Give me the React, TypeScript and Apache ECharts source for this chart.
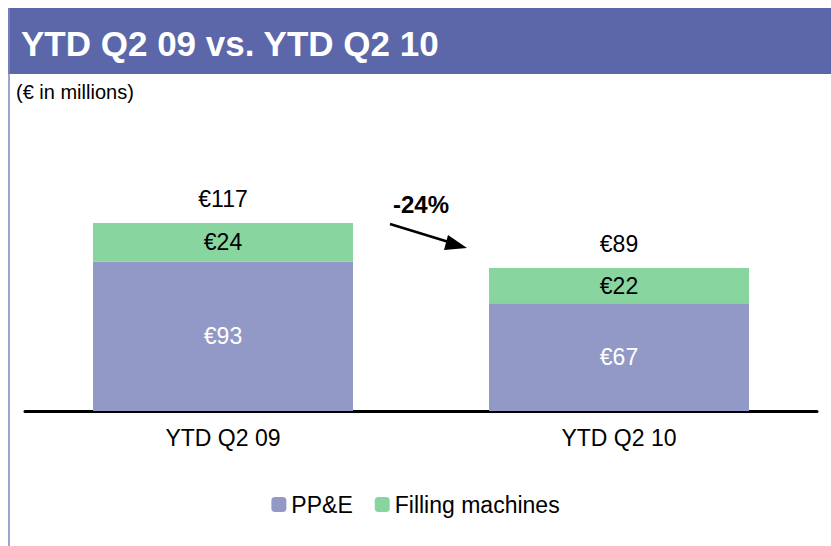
import React, { useEffect, useRef } from "react";
import * as echarts from "echarts";

const categories = ["YTD Q2 09", "YTD Q2 10"];
const ppe = [93, 67];
const filling = [24, 22];
const totals = [117, 89];
const seriesNames = ["PP&E", "Filling machines"];
const changeLabel = "-24%";

export default function App() {
  const ref = useRef<HTMLDivElement>(null);
  useEffect(() => {
    if (!ref.current) return;
    const chart = echarts.init(ref.current, null, { renderer: "svg" });
    const font = "Liberation Sans, Arial, sans-serif";
    chart.setOption({
      animation: false,
      backgroundColor: "#ffffff",
      textStyle: { fontFamily: font },
      grid: { left: 25, right: 14, top: 170, bottom: 135 },
      xAxis: {
        type: "category",
        data: categories,
        axisLine: { lineStyle: { color: "#000", width: 3 } },
        axisTick: { show: false },
        axisLabel: { color: "#000", fontSize: 23, margin: 15, fontFamily: font },
      },
      yAxis: { type: "value", min: 0, max: 150, show: false, splitLine: { show: false } },
      legend: {
        data: seriesNames,
        top: 488,
        left: "center",
        itemWidth: 15,
        itemHeight: 15,
        itemGap: 22,
        icon: "roundRect",
        textStyle: { fontSize: 23, color: "#000", fontFamily: font },
      },
      series: [
        {
          name: seriesNames[0],
          type: "bar",
          stack: "s",
          data: ppe,
          barWidth: 260,
          itemStyle: { color: "#9299C6" },
          label: {
            show: true,
            position: "inside",
            color: "#fff",
            fontSize: 23,
            fontFamily: font,
            formatter: (p: any) => "€" + p.value,
          },
        },
        {
          name: seriesNames[1],
          type: "bar",
          stack: "s",
          data: filling,
          barWidth: 260,
          itemStyle: { color: "#88D5A0" },
          label: {
            show: true,
            position: "inside",
            color: "#000",
            fontSize: 23,
            fontFamily: font,
            formatter: (p: any) => "€" + p.value,
          },
        },
        {
          name: "Total",
          type: "scatter",
          data: totals,
          symbolSize: 0,
          silent: true,
          itemStyle: { opacity: 1 },
          label: {
            show: true,
            position: "top",
            distance: 13,
            color: "#000",
            opacity: 1,
            fontSize: 23,
            fontFamily: font,
            formatter: (p: any) => "€" + p.value,
          },
        },
      ],
      graphic: [
        { type: "rect", shape: { x: 8, y: 8, width: 823, height: 66 }, style: { fill: "#5B67A8" } },
        {
          type: "line",
          shape: { x1: 9, y1: 8, x2: 9, y2: 546 },
          style: { stroke: "#7C86C0", lineWidth: 1.5 },
        },
        {
          type: "text",
          x: 21,
          y: 43,
          style: {
            text: "YTD Q2 09 vs. YTD Q2 10",
            fill: "#fff",
            fontSize: 35,
            fontWeight: "bold",
            fontFamily: font,
            verticalAlign: "middle",
          },
        },
        {
          type: "text",
          x: 16,
          y: 92,
          style: {
            text: "(€ in millions)",
            fill: "#000",
            fontSize: 20,
            fontFamily: font,
            verticalAlign: "middle",
          },
        },
        {
          type: "text",
          x: 393,
          y: 204,
          style: {
            text: changeLabel,
            fill: "#000",
            fontSize: 24,
            fontWeight: "bold",
            fontFamily: font,
            verticalAlign: "middle",
          },
        },
        {
          type: "line",
          shape: { x1: 390, y1: 224, x2: 452, y2: 243 },
          style: { stroke: "#000", lineWidth: 2.5 },
        },
        {
          type: "polygon",
          shape: { points: [[467, 248], [448, 235], [444, 250]] },
          style: { fill: "#000" },
        },
      ],
    });
    return () => chart.dispose();
  }, []);
  return (
    <div
      ref={ref}
      style={{ position: "absolute", left: 0, top: 0, width: 831, height: 546 }}
    />
  );
}
